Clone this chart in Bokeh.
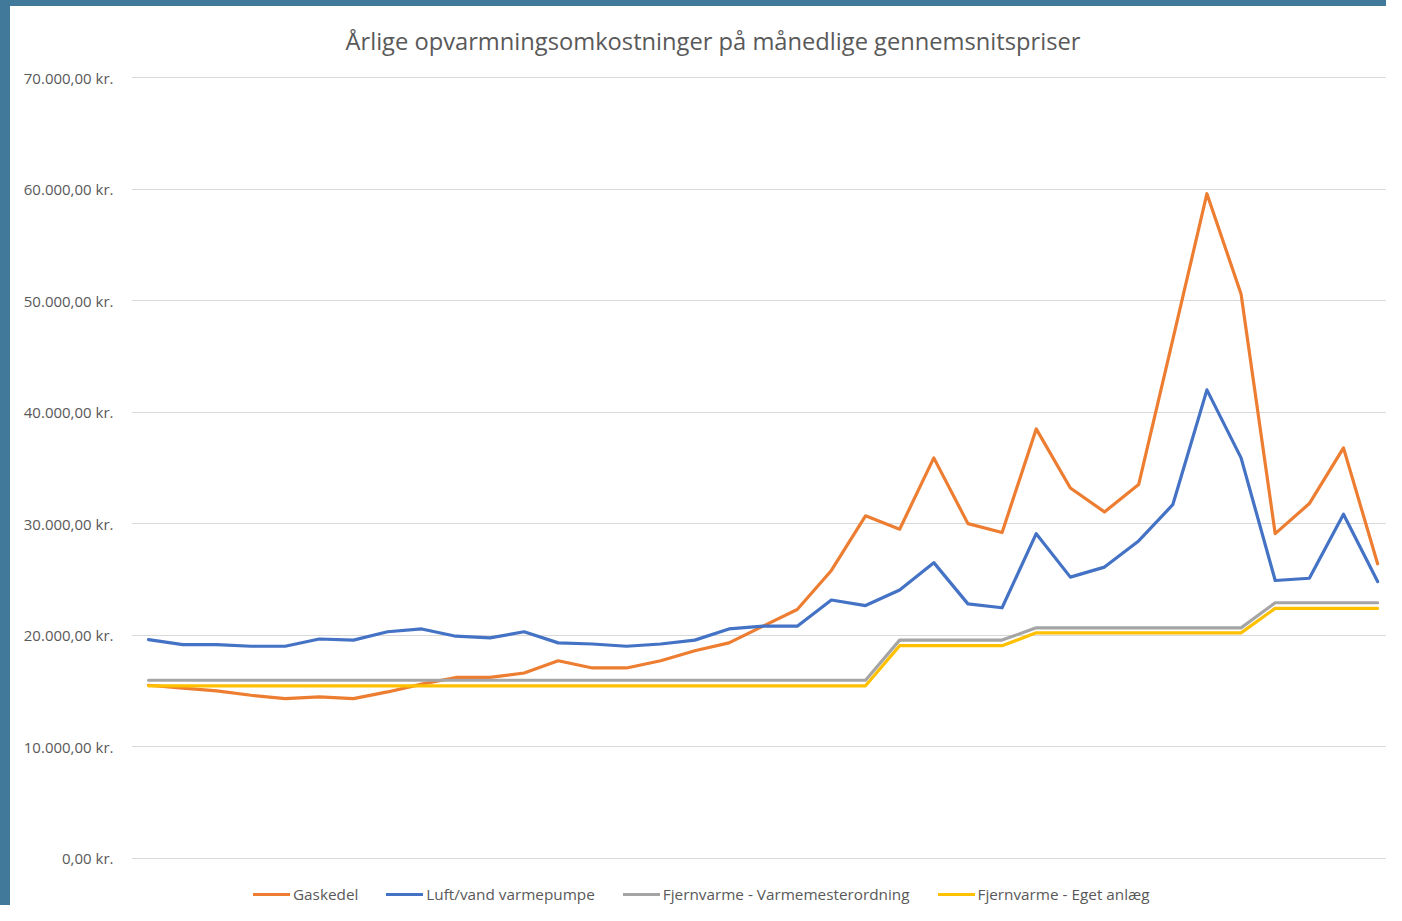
from bokeh.plotting import figure
from bokeh.models import Legend, LegendItem, FixedTicker, Range1d, Spacer
from bokeh.layouts import row, column
from bokeh.embed import file_html
from bokeh.resources import INLINE

title_text = "Årlige opvarmningsomkostninger på månedlige gennemsnitspriser"

months = list(range(1, 38))

gaskedel = [15500, 15250, 15000, 14600, 14300, 14450, 14300, 14900, 15600, 16200,
            16200, 16600, 17700, 17050, 17050, 17700, 18600, 19300, 20800, 22300,
            25800, 30700, 29500, 35900, 30000, 29200, 38500, 33200, 31050, 33500,
            46500, 59600, 50600, 29100, 31800, 36800, 26400]

luft_vand = [19600, 19150, 19150, 19000, 19000, 19650, 19550, 20300, 20550, 19900,
             19750, 20300, 19300, 19200, 19000, 19200, 19550, 20550, 20800, 20800,
             23150, 22650, 24050, 26500, 22800, 22450, 29100, 25200, 26100, 28450,
             31700, 42000, 35900, 24900, 25100, 30850, 24800]

fjv_varmemester = [15950] * 22 + [19550] * 4 + [20650] * 7 + [22900] * 4
fjv_eget = [15450] * 22 + [19050] * 4 + [20200] * 7 + [22400] * 4

series_names = ["Gaskedel", "Luft/vand varmepumpe",
                "Fjernvarme - Varmemesterordning", "Fjernvarme - Eget anlæg"]
series_colors = ["#ED7D31", "#4472C4", "#A5A5A5", "#FFC000"]

tick_values = [0, 10000, 20000, 30000, 40000, 50000, 60000, 70000]
tick_labels = ["0,00 kr.", "10.000,00 kr.", "20.000,00 kr.", "30.000,00 kr.",
               "40.000,00 kr.", "50.000,00 kr.", "60.000,00 kr.", "70.000,00 kr."]

p = figure(width=1376, height=899, output_backend="svg", toolbar_location=None,
           x_range=Range1d(0.5, 37.26), y_range=Range1d(-4261, 70386),
           min_border_left=121, min_border_right=0, min_border_top=67,
           min_border_bottom=0, title=title_text)

p.outline_line_color = None
p.background_fill_color = "white"
p.border_fill_color = "white"

p.title.align = "left"
p.title.offset = 214
p.title.text_font = "Open Sans"
p.title.text_font_size = "23.7px"
p.title.text_font_style = "normal"
p.title.text_color = "#595959"
p.title.standoff = 33

p.xaxis.visible = False
p.xgrid.visible = False

yax = p.yaxis[0]
yax.ticker = FixedTicker(ticks=tick_values)
yax.major_label_overrides = {v: l for v, l in zip(tick_values, tick_labels)}
yax.axis_line_color = None
yax.major_tick_line_color = None
yax.minor_tick_line_color = None
yax.major_tick_out = 0
yax.major_tick_in = 0
yax.major_label_standoff = 18
yax.major_label_text_font = "Open Sans"
yax.major_label_text_font_size = "15px"
yax.major_label_text_color = "#595959"

p.ygrid.grid_line_color = "#D9D9D9"
p.ygrid.grid_line_width = 1

all_series = [gaskedel, luft_vand, fjv_varmemester, fjv_eget]
items = []
for name, col, vals in zip(series_names, series_colors, all_series):
    r = p.line(months, vals, line_color=col, line_width=3.2,
               line_join="round", line_cap="round")
    items.append(LegendItem(label=name, renderers=[r]))

legend = Legend(items=items, orientation="horizontal", location=(122, 1),
                padding=0, margin=0, spacing=28, glyph_width=37, glyph_height=20,
                label_standoff=3, label_text_font="Open Sans",
                label_text_font_size="15.3px", label_text_color="#595959",
                border_line_color=None, background_fill_alpha=0)
p.add_layout(legend)

teal = "#41799A"
left_strip = Spacer(width=10, height=905, styles={"background-color": teal})
top_strip = Spacer(width=1376, height=6, styles={"background-color": teal})
layout = row(left_strip, column(top_strip, p, spacing=0), spacing=0)

open("out.html", "w").write(file_html(layout, INLINE))
